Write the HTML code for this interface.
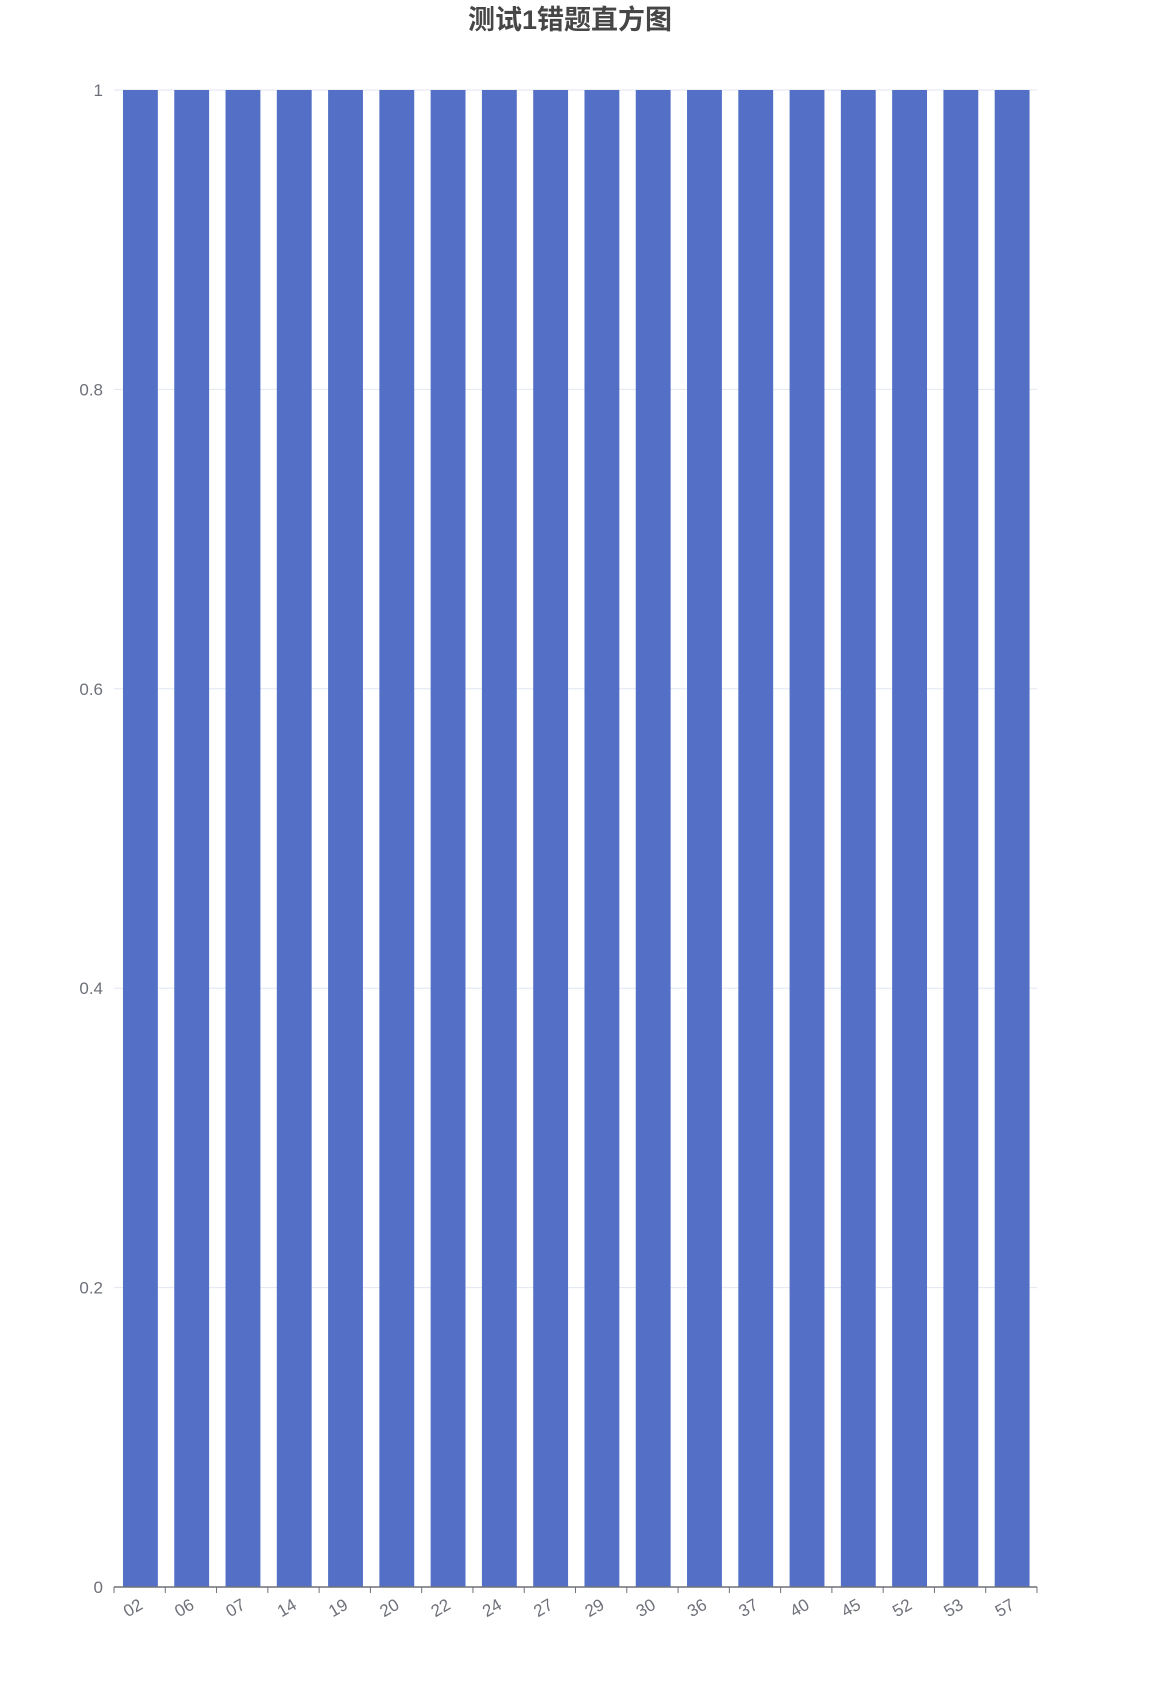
<!DOCTYPE html>
<html><head><meta charset="utf-8"><style>
body{margin:0;background:#fff;}
svg{display:block;font-family:"Liberation Sans","Noto Sans CJK SC",sans-serif;}
</style></head><body>
<svg id="chart" width="1152" height="1692" xmlns="http://www.w3.org/2000/svg">
<text x="570" y="29" text-anchor="middle" font-size="27" font-weight="bold" fill="#464646">测试1错题直方图</text>
<g id="grid"></g><g id="bars"></g><g id="axes"></g>
</svg>
<script>
const categories=["02","06","07","14","19","20","22","24","27","29","30","36","37","40","45","52","53","57"];
const values=[1,1,1,1,1,1,1,1,1,1,1,1,1,1,1,1,1,1];
const yTicks=[0,0.2,0.4,0.6,0.8,1];
const yTickLabels=["0","0.2","0.4","0.6","0.8","1"];
const NS="http://www.w3.org/2000/svg";
const L=114,R=1037,T=90,B=1587;
const bw=(R-L)/categories.length;
function x(i){return L+i*bw;}
function y(v){return B-(v/1)*(B-T);}
function mk(t,a,p){const e=document.createElementNS(NS,t);for(const k in a)e.setAttribute(k,a[k]);p.appendChild(e);return e;}
const grid=document.getElementById('grid'),bars=document.getElementById('bars'),axes=document.getElementById('axes');
yTicks.forEach((v,i)=>{
  if(v>0){const g=mk('line',{x1:L,x2:R,y1:y(v),y2:y(v),stroke:'#e0e6f1','stroke-width':1},grid);
  
  }
  const t=mk('text',{x:103,y:y(v)+6,'text-anchor':'end','font-size':17,fill:'#6e7079'},axes);
  t.textContent=yTickLabels[i];
  
  
});
categories.forEach((c,i)=>{
  const r=mk('rect',{x:x(i)+bw*0.175,y:y(values[i]),width:bw*0.68,height:B-y(values[i]),fill:'#5470c6'},bars);
  
  
  const tk=mk('line',{x1:x(i),x2:x(i),y1:B,y2:B+6,stroke:'#6e7079'},axes);
  
  
  const cx=x(i)+bw/2-2,cy=B+10;
  const t=mk('text',{x:cx,y:cy,'text-anchor':'end','font-size':17,fill:'#6e7079',transform:`rotate(-30 ${cx} ${cy})`,dy:'0.75em'},axes);
  t.textContent=c;
  
  
});
const endTick=mk('line',{x1:R,x2:R,y1:B,y2:B+6,stroke:'#6e7079'},axes);


const ax=mk('line',{x1:L,x2:R,y1:B,y2:B,stroke:'#6e7079','stroke-width':1.5},axes);


</script>
</body></html>
